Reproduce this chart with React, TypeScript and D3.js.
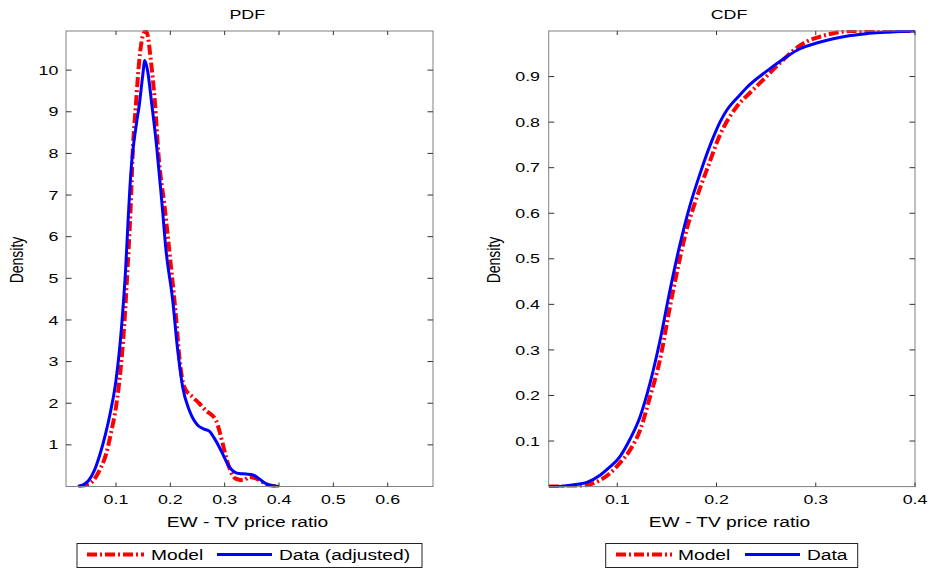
import React from "react";
import * as d3 from "d3";

// ---- Data ----
const pdfModelX = [0.032, 0.045, 0.055, 0.063, 0.072, 0.082, 0.091, 0.1, 0.109, 0.115, 0.1215, 0.127, 0.1307, 0.1368, 0.1442, 0.15, 0.155, 0.159, 0.1626, 0.1718, 0.178, 0.1902, 0.2012, 0.2104, 0.2165, 0.2257, 0.241, 0.253, 0.265, 0.284, 0.29, 0.2963, 0.308, 0.32, 0.334, 0.346, 0.3586, 0.368, 0.377, 0.39, 0.398];
const pdfModelY = [0, 0.04, 0.1, 0.23, 0.45, 0.79, 1.3, 1.91, 2.88, 3.84, 5.28, 6.7, 8.0, 9.2, 10.41, 10.85, 10.94, 10.8, 10.41, 9.2, 8.0, 6.64, 5.28, 4.08, 3.12, 2.39, 2.15, 2.0, 1.83, 1.59, 1.35, 1.03, 0.47, 0.19, 0.15, 0.23, 0.19, 0.12, 0.05, 0.01, 0];

const pdfDataX = [0.03, 0.04, 0.05, 0.06, 0.07, 0.08, 0.09, 0.1, 0.11, 0.118, 0.1226, 0.1257, 0.129, 0.1319, 0.1375, 0.1432, 0.149, 0.153, 0.158, 0.1657, 0.1749, 0.1841, 0.192, 0.2043, 0.2135, 0.2227, 0.2349, 0.2504, 0.262, 0.2717, 0.28, 0.29, 0.3, 0.3085, 0.318, 0.3269, 0.34, 0.352, 0.362, 0.371, 0.383, 0.4];
const pdfDataY = [0, 0.04, 0.15, 0.38, 0.75, 1.22, 1.8, 2.55, 3.8, 5.28, 6.48, 7.2, 7.8, 8.16, 8.7, 9.2, 9.85, 10.23, 10.0, 9.2, 8.16, 6.88, 5.68, 4.48, 3.28, 2.39, 1.83, 1.47, 1.38, 1.33, 1.18, 0.95, 0.68, 0.47, 0.35, 0.31, 0.3, 0.28, 0.2, 0.11, 0.03, 0];

const cdfModelX = [0.031, 0.06, 0.0725, 0.0826, 0.0926, 0.1027, 0.1128, 0.123, 0.133, 0.143, 0.153, 0.163, 0.17, 0.1766, 0.185, 0.19, 0.2035, 0.22, 0.234, 0.247, 0.264, 0.278, 0.291, 0.305, 0.318, 0.335, 0.4];
const cdfModelY = [0, 0.001, 0.005, 0.014, 0.029, 0.052, 0.08, 0.124, 0.197, 0.278, 0.394, 0.5, 0.565, 0.612, 0.665, 0.694, 0.772, 0.833, 0.865, 0.893, 0.93, 0.958, 0.977, 0.988, 0.995, 1.0, 1.0];

const cdfDataX = [0.031, 0.045, 0.06, 0.07, 0.0826, 0.092, 0.1027, 0.113, 0.1229, 0.133, 0.143, 0.153, 0.163, 0.173, 0.1834, 0.1968, 0.2035, 0.2103, 0.2237, 0.2305, 0.2506, 0.267, 0.284, 0.3, 0.3177, 0.335, 0.351, 0.37, 0.385, 0.4];
const cdfDataY = [0, 0.001, 0.005, 0.01, 0.025, 0.042, 0.066, 0.105, 0.153, 0.227, 0.32, 0.43, 0.53, 0.615, 0.687, 0.767, 0.8, 0.826, 0.86, 0.876, 0.912, 0.938, 0.961, 0.973, 0.983, 0.99, 0.994, 0.997, 0.999, 1.0];

const pdfXTicks = [0.1, 0.2, 0.3, 0.4, 0.5, 0.6];
const pdfYTicks = [1, 2, 3, 4, 5, 6, 7, 8, 9, 10];
const cdfXTicks = [0.1, 0.2, 0.3, 0.4];
const cdfYTicks = [0.1, 0.2, 0.3, 0.4, 0.5, 0.6, 0.7, 0.8, 0.9];

const pdfXDomain = [0.008, 0.6834];
const pdfYDomain = [0, 10.94];
const cdfXDomain = [0.0309, 0.4];
const cdfYDomain = [0, 1];

const titles = ["PDF", "CDF"];
const xLabel = "EW - TV price ratio";
const yLabel = "Density";
const legendLeft = ["Model", "Data (adjusted)"];
const legendRight = ["Model", "Data"];

// ---- Style ----
const FONT = "'Liberation Sans', Arial, Helvetica, sans-serif";
const SX = 1.37;
const RED = "#ff0000";
const BLUE = "#0000ff";
const DASH = "10,3,2,3";

const T = ({ x, y, size, anchor = "start", rotate = false, children }: any) => (
  <text
    transform={`translate(${x},${y}) scale(${SX},1)${rotate ? " rotate(-90)" : ""}`}
    fontFamily={FONT}
    fontSize={size}
    textAnchor={anchor}
    fill="#000"
  >
    {children}
  </text>
);

const toPts = (xs: number[], ys: number[]) => xs.map((x, i) => [x, ys[i]] as [number, number]);

function Panel({ id, x0, x1, y0, y1, xDomain, yDomain, xTicks, yTicks, yFmt, model, data, title, titleX, xLabelX, yLabelX, yTickGap }: any) {
  const xs = d3.scaleLinear().domain(xDomain).range([x0, x1]);
  const ys = d3.scaleLinear().domain(yDomain).range([y1, y0]);
  const line = d3
    .line<[number, number]>()
    .x((d) => xs(d[0]))
    .y((d) => ys(d[1]))
    .curve(d3.curveMonotoneX);
  return (
    <g>
      <defs>
        <clipPath id={id}>
          <rect x={x0} y={y0 - 1} width={x1 - x0} height={y1 - y0 + 2} />
        </clipPath>
      </defs>
      <rect x={x0} y={y0} width={x1 - x0} height={y1 - y0} fill="#fff" stroke="none" />
      <g clipPath={`url(#${id})`}>
        <path d={line(model) || ""} fill="none" stroke={RED} strokeWidth={4} strokeDasharray={DASH} />
        <path d={line(data) || ""} fill="none" stroke={BLUE} strokeWidth={3} strokeLinejoin="round" />
      </g>
      <rect x={x0} y={y0} width={x1 - x0} height={y1 - y0} fill="none" stroke="#808080" strokeWidth={1} />
      {xTicks.map((t: number) => (
        <g key={"x" + t}>
          <line x1={xs(t)} x2={xs(t)} y1={y1} y2={y1 - 4} stroke="#333" />
          <line x1={xs(t)} x2={xs(t)} y1={y0} y2={y0 + 4} stroke="#333" />
          <T x={xs(t)} y={503.5} size={13} anchor="middle">
            {d3.format(".1f")(t)}
          </T>
        </g>
      ))}
      {yTicks.map((t: number) => (
        <g key={"y" + t}>
          <line x1={x0} x2={x0 + 5.5} y1={ys(t)} y2={ys(t)} stroke="#333" />
          <line x1={x1} x2={x1 - 5.5} y1={ys(t)} y2={ys(t)} stroke="#333" />
          <T x={x0 - yTickGap} y={ys(t) + 4.6} size={13} anchor="end">
            {yFmt(t)}
          </T>
        </g>
      ))}
      <T x={titleX} y={19.3} size={13} anchor="middle">
        {title}
      </T>
      <T x={xLabelX} y={526.7} size={14} anchor="middle">
        {xLabel}
      </T>
      <T x={yLabelX} y={260} size={14} anchor="middle" rotate>
        {yLabel}
      </T>
    </g>
  );
}

function Legend({ bx0, bx1, redX0, redX1, t1x, blueX0, blueX1, t2x, labels }: any) {
  return (
    <g>
      <rect x={bx0} y={543.5} width={bx1 - bx0} height={24} fill="#fff" stroke="#222" strokeWidth={1} />
      <line x1={redX0} x2={redX1} y1={554.5} y2={554.5} stroke={RED} strokeWidth={4} strokeDasharray={DASH} />
      <T x={t1x} y={560} size={14}>
        {labels[0]}
      </T>
      <line x1={blueX0} x2={blueX1} y1={554.5} y2={554.5} stroke={BLUE} strokeWidth={3} />
      <T x={t2x} y={560} size={14}>
        {labels[1]}
      </T>
    </g>
  );
}

export default function App() {
  return (
    <svg width={931} height={571} style={{ position: "absolute", left: 0, top: 0, background: "#fff" }}>
      <rect width={931} height={571} fill="#fff" />
      <Panel
        id="clipL"
        x0={66}
        x1={433}
        y0={31}
        y1={486.5}
        xDomain={pdfXDomain}
        yDomain={pdfYDomain}
        xTicks={pdfXTicks}
        yTicks={pdfYTicks}
        yFmt={(t: number) => String(t)}
        model={toPts(pdfModelX, pdfModelY)}
        data={toPts(pdfDataX, pdfDataY)}
        title={titles[0]}
        titleX={247.3}
        xLabelX={247.5}
        yLabelX={22.5}
        yTickGap={7.7}
      />
      <Panel
        id="clipR"
        x0={548.7}
        x1={915}
        y0={31}
        y1={486.6}
        xDomain={cdfXDomain}
        yDomain={cdfYDomain}
        xTicks={cdfXTicks}
        yTicks={cdfYTicks}
        yFmt={d3.format(".1f")}
        model={toPts(cdfModelX, cdfModelY)}
        data={toPts(cdfDataX, cdfDataY)}
        title={titles[1]}
        titleX={729}
        xLabelX={729.5}
        yLabelX={500}
        yTickGap={8.7}
      />
      <Legend bx0={77} bx1={422} redX0={87} redX1={144} t1x={151} blueX0={217} blueX1={272} t2x={279} labels={legendLeft} />
      <Legend bx0={605.7} bx1={857.7} redX0={616} redX1={672} t1x={678} blueX0={745} blueX1={800} t2x={807} labels={legendRight} />
    </svg>
  );
}
